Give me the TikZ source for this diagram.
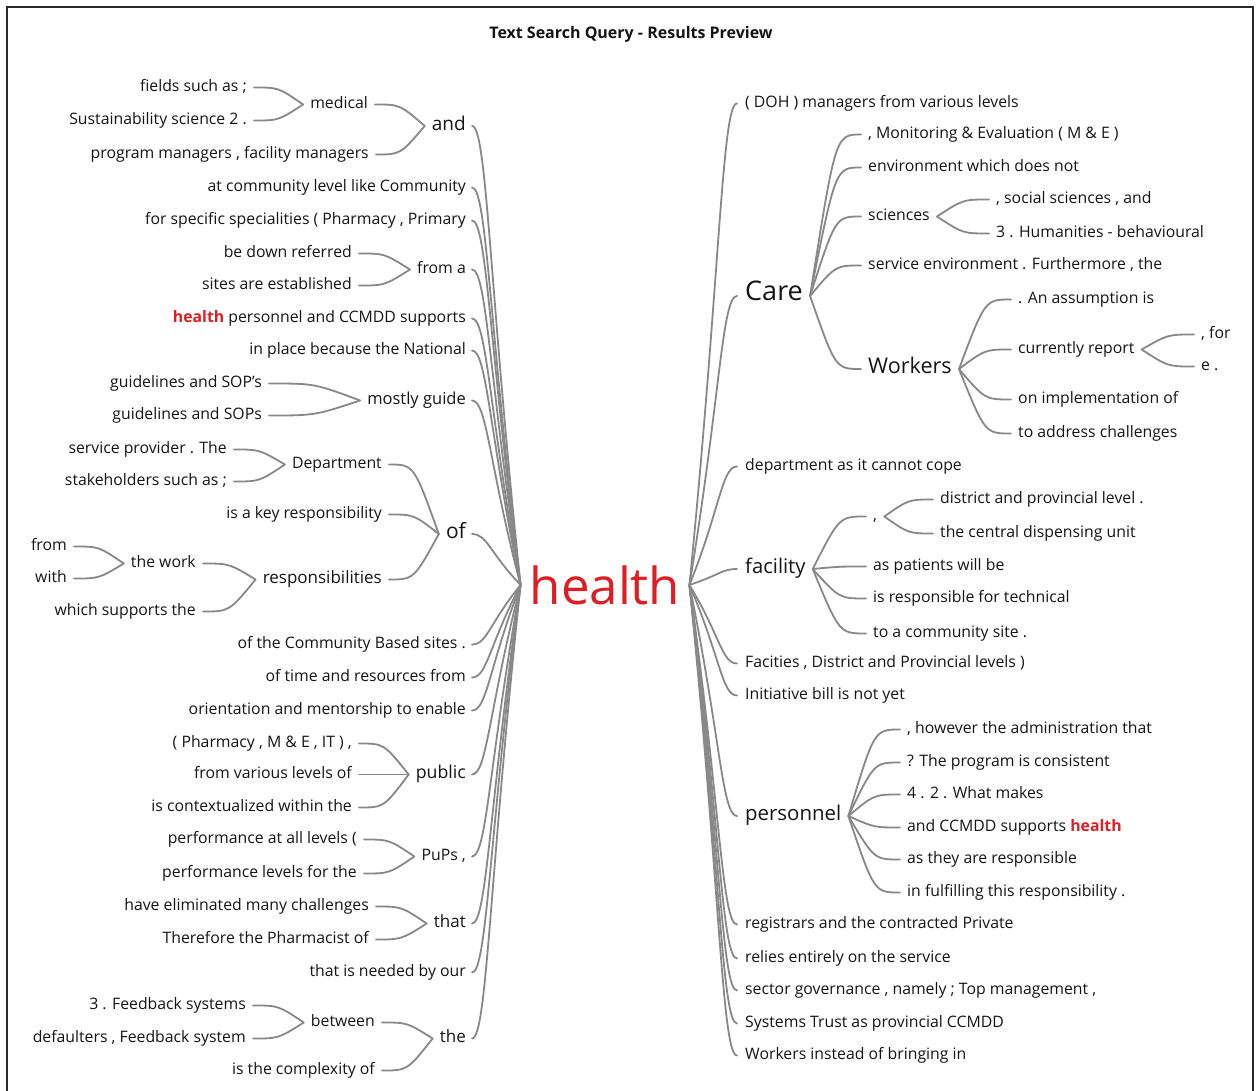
\documentclass[tikz,border=0pt]{standalone}
\usepackage{fontspec}
\setmainfont{Open Sans}
\usetikzlibrary{calc}
\definecolor{hred}{RGB}{221,30,36}
\definecolor{ink}{RGB}{20,20,20}
\definecolor{wire}{RGB}{136,136,136}
\definecolor{frame}{RGB}{40,40,40}
\newcommand\fsz[1]{\fontsize{#1}{#1}\selectfont}
\newcommand\kw{\textcolor{hred}{\bfseries health}}
% link from a child on the left to its parent on the right
\newcommand\linkL[2]{%
  \path ([xshift=7pt,yshift=1.5pt]#1.mid east) coordinate (pa) ([xshift=-7pt,yshift=1.5pt]#2.mid west) coordinate (pb);
  \draw[conn] (pa) .. controls ($(pa)!0.5!(pb |- pa)$) .. (pb);}
% link from a parent on the left to its child on the right
\newcommand\linkR[2]{%
  \path ([xshift=7pt,yshift=1.5pt]#1.mid east) coordinate (pa) ([xshift=-7pt,yshift=1.5pt]#2.mid west) coordinate (pb);
  \draw[conn] (pb) .. controls ($(pb)!0.5!(pa |- pb)$) .. (pa);}
% links into the central keyword
\newcommand\hubL[1]{%
  \path ([xshift=6pt,yshift=1.5pt]#1.mid east) coordinate (pa);
  \draw[conn] (pa) .. controls +(15,0) and ($(pa)!0.35!(hl)$) .. (hl);}
\newcommand\hubR[1]{%
  \path ([xshift=-8pt,yshift=1.5pt]#1.mid west) coordinate (pa);
  \draw[conn] (pa) .. controls +(-15,0) and ($(pa)!0.35!(hr)$) .. (hr);}
\begin{document}
\begin{tikzpicture}[x=1pt,y=-1pt,
  txt/.style={inner sep=0pt, text=ink, font={\fsz{15.8}}, yshift=-3pt},
  lft/.style={txt, anchor=mid east},
  rgt/.style={txt, anchor=mid west},
  big/.style={yshift=-2.5pt},
  conn/.style={draw=wire, line width=1.8pt, line cap=round},
]
\useasboundingbox (0,0) rectangle (1257,1091);
\draw[draw=frame, line width=1.6pt] (7,1091) -- (7,7) -- (1253,7) -- (1253,1091);

\node[font={\fsz{16}\bfseries}, text=ink, inner sep=0pt] (title) at (631,34) {Text Search Query - Results Preview};

% central keyword
\node[inner sep=0pt, text=hred, font={\fsz{51}}] (health) at (605,585) {health};
\coordinate (hl) at ([xshift=-9pt]health.west);
\coordinate (hr) at ([xshift=9pt]health.east);

% ---------- left half ----------
\node[lft, font={\fsz{19}}, big] (and) at (466,122) {and};
\node[lft] (medical) at (368,103) {medical};
\node[lft] (fields) at (247,86) {fields such as ;};
\node[lft] (sust) at (247,119) {Sustainability science 2 .};
\node[lft] (progman) at (369,153) {program managers , facility managers};
\node[lft] (atcomm) at (466,186) {at community level like Community};
\node[lft] (forspec) at (466,219) {for specific specialities ( Pharmacy , Primary};
\node[lft] (froma) at (466,268) {from a};
\node[lft] (bedown) at (352,252) {be down referred};
\node[lft] (sites) at (352,284) {sites are established};
\node[lft] (hpers) at (466,317) {\kw{} personnel and CCMDD supports};
\node[lft] (inplace) at (466,349) {in place because the National};
\node[lft, font={\fsz{16.5}}] (mostly) at (466,399) {mostly guide};
\node[lft] (sopa) at (262,382) {guidelines and SOP's};
\node[lft] (sopb) at (262,414) {guidelines and SOPs};
\node[lft, font={\fsz{21}}, big] (of) at (466,530) {of};
\node[lft] (dept) at (382,463) {Department};
\node[lft] (svc) at (227,448) {service provider . The};
\node[lft] (stake) at (227,480) {stakeholders such as ;};
\node[lft] (keyresp) at (382,513) {is a key responsibility};
\node[lft, font={\fsz{17}}] (resp) at (382,578) {responsibilities};
\node[lft] (thework) at (196,562) {the work};
\node[lft] (from) at (67,545) {from};
\node[lft] (with) at (67,577) {with};
\node[lft] (which) at (196,610) {which supports the};
\node[lft] (ofcomm) at (466,643) {of the Community Based sites .};
\node[lft] (oftime) at (466,676) {of time and resources from};
\node[lft] (orient) at (466,709) {orientation and mentorship to enable};
\node[lft, font={\fsz{17.7}}] (public) at (466,773) {public};
\node[lft] (pharm) at (352,742) {( Pharmacy , M \& E , IT ) ,};
\node[lft] (fromvar) at (352,773) {from various levels of};
\node[lft] (context) at (352,806) {is contextualized within the};
\node[lft] (pups) at (466,855) {PuPs ,};
\node[lft] (perfa) at (357,838) {performance at all levels (};
\node[lft] (perfb) at (357,872) {performance levels for the};
\node[lft, font={\fsz{17}}] (that) at (466,922) {that};
\node[lft] (elim) at (369,905) {have eliminated many challenges};
\node[lft] (therefore) at (369,938) {Therefore the Pharmacist of};
\node[lft] (needed) at (466,971) {that is needed by our};
\node[lft, font={\fsz{17}}] (the) at (466,1037) {the};
\node[lft] (between) at (375,1021) {between};
\node[lft] (fba) at (246,1004) {3 . Feedback systems};
\node[lft] (fbb) at (246,1037) {defaulters , Feedback system};
\node[lft] (complex) at (375,1069) {is the complexity of};

% ---------- right half ----------
\node[rgt] (doh) at (745,102) {( DOH ) managers from various levels};
\node[rgt, font={\fsz{27}}, big, yshift=-5pt] (care) at (745,287) {Care};
\node[rgt] (mon) at (868,133) {, Monitoring \& Evaluation ( M \& E )};
\node[rgt] (env) at (868,166) {environment which does not};
\node[rgt] (sciences) at (868,215) {sciences};
\node[rgt] (social) at (996,198) {, social sciences , and};
\node[rgt] (human) at (996,232) {3 . Humanities - behavioural};
\node[rgt] (service) at (868,264) {service environment . Furthermore , the};
\node[rgt, font={\fsz{21.6}}, big] (workers) at (868,365) {Workers};
\node[rgt] (assump) at (1018,298) {. An assumption is};
\node[rgt] (currently) at (1018,348) {currently report};
\node[rgt] (forc) at (1201,333) {, for};
\node[rgt] (eg) at (1201,365) {e .};
\node[rgt] (onimpl) at (1018,398) {on implementation of};
\node[rgt] (toaddr) at (1018,432) {to address challenges};
\node[rgt] (deptcope) at (745,465) {department as it cannot cope};
\node[rgt, font={\fsz{20.2}}, big] (facility) at (745,565) {facility};
\node[rgt] (comma) at (873,515) {,};
\node[rgt] (district) at (940,498) {district and provincial level .};
\node[rgt] (central) at (940,532) {the central dispensing unit};
\node[rgt] (aspat) at (873,565) {as patients will be};
\node[rgt] (isresp) at (873,597) {is responsible for technical};
\node[rgt] (tocomm) at (873,632) {to a community site .};
\node[rgt] (facities) at (745,662) {Facities , District and Provincial levels )};
\node[rgt] (initiative) at (745,694) {Initiative bill is not yet};
\node[rgt, font={\fsz{20.4}}, big] (personnel) at (745,812) {personnel};
\node[rgt] (however) at (907,728) {, however the administration that};
\node[rgt] (consistent) at (907,761) {? The program is consistent};
\node[rgt] (fourtwo) at (907,793) {4 . 2 . What makes};
\node[rgt] (ccmdd) at (907,826) {and CCMDD supports \kw};
\node[rgt] (asthey) at (907,858) {as they are responsible};
\node[rgt] (fulfil) at (907,891) {in fulfilling this responsibility .};
\node[rgt] (registrars) at (745,923) {registrars and the contracted Private};
\node[rgt] (relies) at (745,957) {relies entirely on the service};
\node[rgt] (sector) at (745,989) {sector governance , namely ; Top management ,};
\node[rgt] (systems) at (745,1022) {Systems Trust as provincial CCMDD};
\node[rgt] (workin) at (745,1054) {Workers instead of bringing in};

% ---------- connectors, left half ----------
\linkL{fields}{medical}
\linkL{sust}{medical}
\linkL{medical}{and}
\linkL{progman}{and}
\linkL{bedown}{froma}
\linkL{sites}{froma}
\linkL{sopa}{mostly}
\linkL{sopb}{mostly}
\linkL{svc}{dept}
\linkL{stake}{dept}
\linkL{dept}{of}
\linkL{keyresp}{of}
\linkL{resp}{of}
\linkL{from}{thework}
\linkL{with}{thework}
\linkL{thework}{resp}
\linkL{which}{resp}
\linkL{pharm}{public}
\linkL{fromvar}{public}
\linkL{context}{public}
\linkL{perfa}{pups}
\linkL{perfb}{pups}
\linkL{elim}{that}
\linkL{therefore}{that}
\linkL{fba}{between}
\linkL{fbb}{between}
\linkL{between}{the}
\linkL{complex}{the}
\foreach \n in {and,atcomm,forspec,froma,hpers,inplace,mostly,of,ofcomm,oftime,orient,public,pups,that,needed,the}
  {\hubL{\n}}

% ---------- connectors, right half ----------
\linkR{care}{mon}
\linkR{care}{env}
\linkR{care}{sciences}
\linkR{care}{service}
\linkR{care}{workers}
\linkR{sciences}{social}
\linkR{sciences}{human}
\linkR{workers}{assump}
\linkR{workers}{currently}
\linkR{workers}{onimpl}
\linkR{workers}{toaddr}
\linkR{currently}{forc}
\linkR{currently}{eg}
\linkR{facility}{comma}
\linkR{facility}{aspat}
\linkR{facility}{isresp}
\linkR{facility}{tocomm}
\linkR{comma}{district}
\linkR{comma}{central}
\linkR{personnel}{however}
\linkR{personnel}{consistent}
\linkR{personnel}{fourtwo}
\linkR{personnel}{ccmdd}
\linkR{personnel}{asthey}
\linkR{personnel}{fulfil}
\foreach \n in {doh,care,deptcope,facility,facities,initiative,personnel,registrars,relies,sector,systems,workin}
  {\hubR{\n}}
\end{tikzpicture}
\end{document}
